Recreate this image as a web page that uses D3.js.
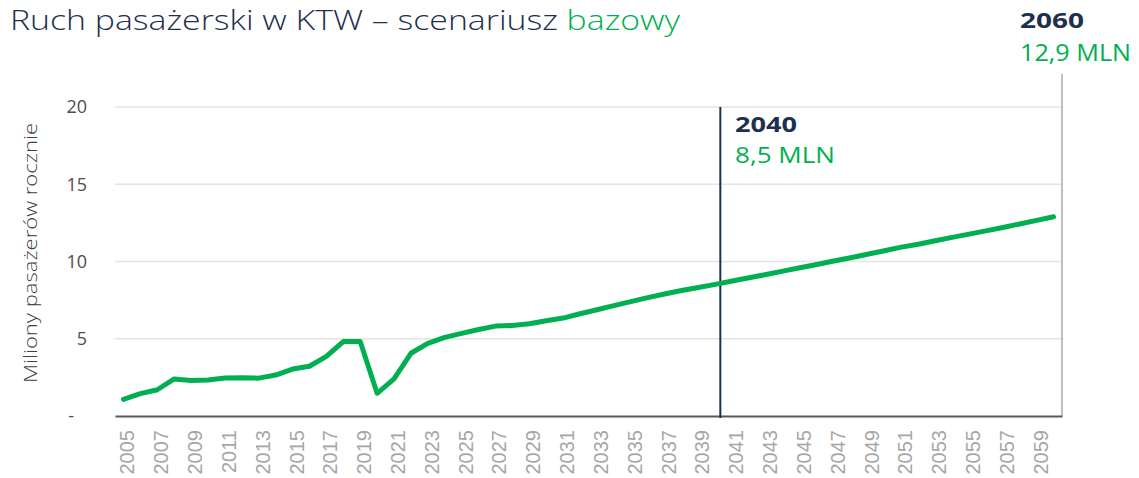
<!DOCTYPE html>
<html>
<head>
<meta charset="utf-8">
<script src="https://cdn.jsdelivr.net/npm/d3@7"></script>
<style>
  html, body { margin: 0; padding: 0; background: #fff; }
  svg { display: block; }
</style>
</head>
<body>
<svg id="chart" width="1139" height="478"></svg>
<script>
// Data
const years = d3.range(2005, 2061);
const passengers = [
  1.08, 1.45, 1.70, 2.40, 2.30, 2.33, 2.46, 2.48, 2.45, 2.65,
  3.04, 3.22, 3.86, 4.82, 4.82, 1.47, 2.40, 4.06, 4.70, 5.09,
  5.35, 5.60, 5.82, 5.86, 5.97, 6.17, 6.34, 6.62, 6.88, 7.14,
  7.40, 7.66, 7.90, 8.12, 8.32, 8.52, 8.74, 8.95, 9.16, 9.38,
  9.60, 9.81, 10.03, 10.24, 10.47, 10.70, 10.93, 11.12, 11.34, 11.56,
  11.77, 11.98, 12.20, 12.43, 12.66, 12.90
];
const yTicks = [0, 5, 10, 15, 20];
const xTickYears = years.filter(y => (y - 2005) % 2 === 0 && y < 2060);
const markers = [
  { year: 2040, label: '2040', value: '8,5 MLN' },
  { year: 2060, label: '2060', value: '12,9 MLN' }
];

const navy = '#1e2f4f';
const green = '#00b050';
const sans = '"Open Sans", "Noto Sans", sans-serif';
const svg = d3.select('#chart');

const x = d3.scaleBand().domain(years).range([115, 1062]);
const xc = yr => x(yr) + x.bandwidth() / 2;
const y = d3.scaleLinear().domain([0, 20]).range([416, 107]);

// Title
const title = svg.append('text')
  .attr('x', 10).attr('y', 30)
  .attr('font-family', sans)
  .attr('font-weight', 300)
  .attr('font-size', 27)
  .attr('fill', navy)
  .attr('textLength', 670)
  .attr('lengthAdjust', 'spacingAndGlyphs');
title.append('tspan').text('Ruch pasażerski w KTW – scenariusz ');
title.append('tspan').attr('fill', green).text('bazowy');

// Gridlines
svg.append('g')
  .selectAll('line')
  .data(yTicks.filter(d => d > 0))
  .join('line')
  .attr('x1', 115).attr('x2', 1062)
  .attr('y1', d => y(d)).attr('y2', d => y(d))
  .attr('stroke', '#e4e4e4')
  .attr('stroke-width', 1.5);

// Y axis labels
const yAxis = svg.append('g')
  .attr('transform', 'translate(87,0)')
  .call(d3.axisLeft(y).tickValues(yTicks).tickSize(0).tickPadding(0)
    .tickFormat(d => d === 0 ? '-' : d));
yAxis.select('.domain').remove();
yAxis.selectAll('text')
  .attr('font-family', sans)
  .attr('font-size', 18)
  .attr('fill', '#4d4d4d')
  .attr('dx', d => d === 0 ? -13 : 0);

// Y axis title
svg.append('text')
  .attr('transform', 'translate(37,253) rotate(-90)')
  .attr('text-anchor', 'middle')
  .attr('font-family', sans)
  .attr('font-weight', 300)
  .attr('font-size', 18)
  .attr('fill', '#404040')
  .attr('textLength', 260)
  .attr('lengthAdjust', 'spacingAndGlyphs')
  .text('Miliony pasażerów rocznie');

// Right edge line (2060)
svg.append('line')
  .attr('x1', 1062).attr('x2', 1062)
  .attr('y1', 74).attr('y2', 416)
  .attr('stroke', '#bfbfbf')
  .attr('stroke-width', 2);

// X axis
const xAxis = svg.append('g')
  .attr('transform', 'translate(0,416)')
  .call(d3.axisBottom(x).tickValues(xTickYears).tickSize(0).tickPadding(0));
xAxis.select('.domain')
  .attr('stroke', '#595959')
  .attr('stroke-width', 2);
xAxis.selectAll('text')
  .attr('font-family', '"Liberation Sans", Arial, sans-serif')
  .attr('font-size', 20)
  .attr('fill', '#a6a6a6')
  .attr('text-anchor', 'end')
  .attr('transform', 'translate(4,14) rotate(-90)')
  .attr('y', 0)
  .attr('dy', '0.35em');

// 2040 marker line
svg.append('line')
  .attr('x1', xc(2040) + 5).attr('x2', xc(2040) + 5)
  .attr('y1', y(20)).attr('y2', 418)
  .attr('stroke', navy)
  .attr('stroke-width', 2);

// Passenger line
svg.append('path')
  .datum(years.map((yr, i) => [yr, passengers[i]]))
  .attr('fill', 'none')
  .attr('stroke', green)
  .attr('stroke-width', 5)
  .attr('stroke-linejoin', 'round')
  .attr('stroke-linecap', 'round')
  .attr('d', d3.line().x(d => xc(d[0])).y(d => y(d[1])));

// Marker annotations
const anno = [
  { m: markers[0], x: 735, y1: 132, y2: 163, w1: 62, w2: 100, s: 21 },
  { m: markers[1], x: 1020, y1: 28, y2: 61, w1: 64, w2: 111, s: 22 }
];
anno.forEach(a => {
  svg.append('text')
    .attr('x', a.x).attr('y', a.y1)
    .attr('font-family', sans)
    .attr('font-weight', 700)
    .attr('font-size', a.s)
    .attr('fill', navy)
    .attr('textLength', a.w1)
    .attr('lengthAdjust', 'spacingAndGlyphs')
    .text(a.m.label);
  svg.append('text')
    .attr('x', a.x).attr('y', a.y2)
    .attr('font-family', sans)
    .attr('font-size', a.s + 1)
    .attr('fill', green)
    .attr('textLength', a.w2)
    .attr('lengthAdjust', 'spacingAndGlyphs')
    .text(a.m.value);
});
</script>
</body>
</html>
